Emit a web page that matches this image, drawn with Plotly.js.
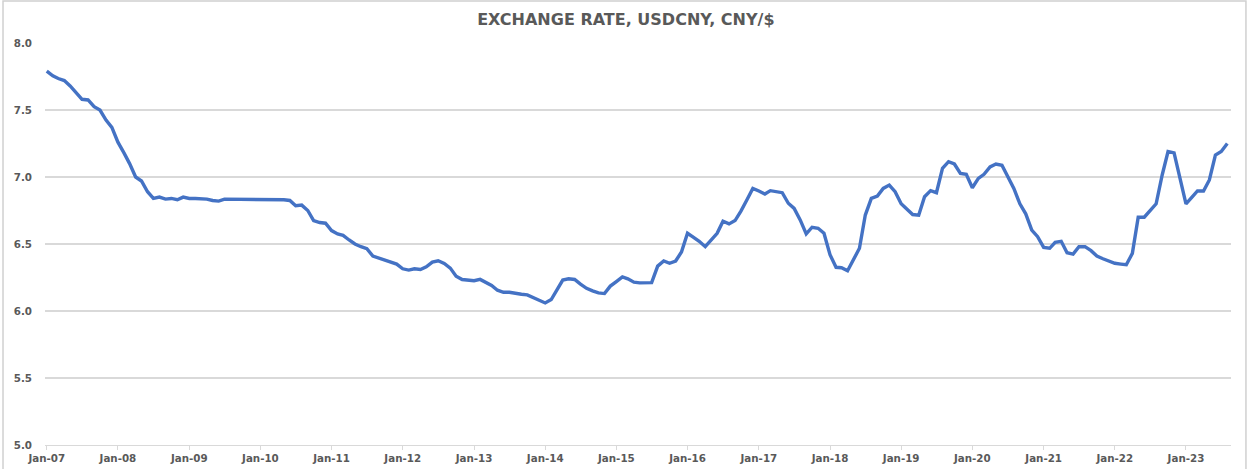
<!DOCTYPE html>
<html>
<head>
<meta charset="utf-8">
<script src="https://cdn.plot.ly/plotly-3.0.1.min.js"></script>
<style>html,body{margin:0;padding:0;background:#fff;}#chart{width:1248px;height:469px;}</style>
</head>
<body>
<div id="chart"></div>
<script>
// Monthly USDCNY (CNY per USD), Jan-07 to Aug-23
const rate2007 = [7.79, 7.755, 7.735, 7.72, 7.68, 7.63, 7.58, 7.575, 7.525, 7.50, 7.425, 7.37];
const rate2008 = [7.26, 7.18, 7.10, 7.00, 6.97, 6.89, 6.84, 6.85, 6.835, 6.84, 6.83, 6.85];
const rate2009 = [6.84, 6.84, 6.84, 6.835, 6.825, 6.82, 6.835, 6.835, 6.832, 6.83, 6.83, 6.83];
const rate2010 = [6.83, 6.83, 6.83, 6.83, 6.83, 6.825, 6.785, 6.79, 6.75, 6.675, 6.66, 6.655];
const rate2011 = [6.60, 6.575, 6.565, 6.53, 6.50, 6.48, 6.465, 6.41, 6.395, 6.375, 6.36, 6.35];
const rate2012 = [6.315, 6.305, 6.315, 6.31, 6.33, 6.365, 6.375, 6.355, 6.32, 6.26, 6.235, 6.228];
const rate2013 = [6.226, 6.236, 6.215, 6.19, 6.155, 6.14, 6.14, 6.13, 6.125, 6.12, 6.10, 6.085];
const rate2014 = [6.06, 6.085, 6.16, 6.231, 6.24, 6.235, 6.20, 6.169, 6.15, 6.135, 6.13, 6.186];
const rate2015 = [6.22, 6.255, 6.24, 6.215, 6.21, 6.21, 6.212, 6.335, 6.373, 6.356, 6.373, 6.44];
const rate2016 = [6.58, 6.55, 6.52, 6.48, 6.53, 6.58, 6.67, 6.65, 6.675, 6.745, 6.83, 6.915];
const rate2017 = [6.895, 6.873, 6.898, 6.89, 6.883, 6.804, 6.766, 6.68, 6.575, 6.625, 6.617, 6.58];
const rate2018 = [6.42, 6.326, 6.323, 6.30, 6.38, 6.468, 6.716, 6.841, 6.858, 6.915, 6.94, 6.89];
const rate2019 = [6.80, 6.755, 6.72, 6.715, 6.853, 6.898, 6.883, 7.065, 7.114, 7.097, 7.027, 7.02];
const rate2020 = [6.92, 6.99, 7.02, 7.075, 7.097, 7.087, 7.00, 6.915, 6.80, 6.725, 6.604, 6.555];
const rate2021 = [6.475, 6.468, 6.512, 6.52, 6.435, 6.425, 6.48, 6.48, 6.45, 6.41, 6.39, 6.37];
const rate2022 = [6.356, 6.35, 6.345, 6.43, 6.70, 6.70, 6.75, 6.80, 7.015, 7.19, 7.18, 6.99];
const rate2023 = [6.80, 6.85, 6.896, 6.896, 6.978, 7.164, 7.19, 7.25];

const startYear = 2007;
const yearly = [rate2007, rate2008, rate2009, rate2010, rate2011, rate2012, rate2013, rate2014,
                rate2015, rate2016, rate2017, rate2018, rate2019, rate2020, rate2021, rate2022, rate2023];

const xDates = [], yVals = [];
yearly.forEach((arr, yi) => {
  arr.forEach((v, m) => {
    const yr = startYear + yi;
    xDates.push(yr + '-' + String(m + 1).padStart(2, '0') + '-01');
    yVals.push(v);
  });
});

const titleText = 'EXCHANGE RATE, USDCNY, CNY/$';
const yTicks = [5.0, 5.5, 6.0, 6.5, 7.0, 7.5, 8.0];

const trace = {
  x: xDates, y: yVals, type: 'scatter', mode: 'lines',
  line: {color: '#4472C4', width: 3.4}, hoverinfo: 'x+y'
};

const font = {family: 'DejaVu Sans, Verdana, sans-serif', size: 10.3, color: '#595959', weight: 'bold'};

const layout = {
  width: 1248, height: 469,
  margin: {l: 45, r: 17, t: 43, b: 24},
  paper_bgcolor: '#ffffff', plot_bgcolor: '#ffffff',
  showlegend: false,
  title: {
    text: titleText, xref: 'container', x: 0.5015, xanchor: 'center',
    yref: 'container', y: 0.9595, yanchor: 'middle',
    font: {family: 'DejaVu Sans, Verdana, sans-serif', size: 16, color: '#595959', weight: 'bold'}
  },
  xaxis: {
    type: 'date',
    range: ['2006-12-23', '2023-08-20'],
    tickformat: '%b-%y', dtick: 'M12', tick0: '2007-01-01',
    showgrid: false, zeroline: false,
    showline: true, linecolor: '#d9d9d9', linewidth: 1,
    ticks: 'outside', ticklen: 4, tickcolor: '#d9d9d9', tickwidth: 1,
    tickfont: font
  },
  yaxis: {
    range: [5, 8], tickvals: yTicks, ticktext: yTicks.map(v => v.toFixed(1)),
    showgrid: true, gridcolor: '#d9d9d9', gridwidth: 1.2,
    zeroline: false, showline: false, ticks: '',
    ticklabelstandoff: 12,
    tickfont: font
  },
  shapes: [{
    type: 'rect', xref: 'paper', yref: 'paper', layer: 'below',
    x0: -0.0354, x1: 1.0126, y0: -0.07, y1: 1.1045,
    line: {color: '#d0d0d0', width: 1.5}, fillcolor: 'rgba(0,0,0,0)'
  }]
};

Plotly.newPlot('chart', [trace], layout, {displayModeBar: false, staticPlot: true});
</script>
</body>
</html>
